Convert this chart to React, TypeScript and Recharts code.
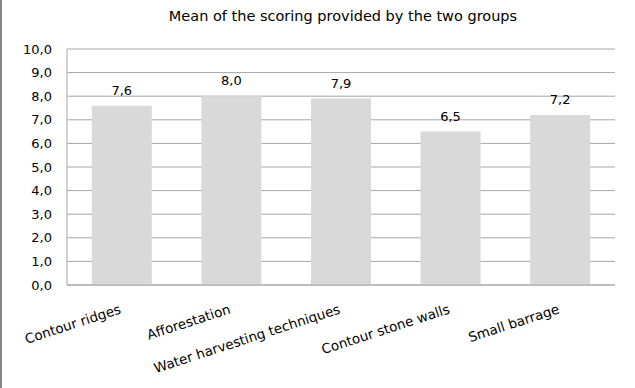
import { Bar, BarChart, CartesianGrid, LabelList, XAxis, YAxis } from "recharts";

const techniques = [
  "Contour ridges",
  "Afforestation",
  "Water harvesting techniques",
  "Contour stone walls",
  "Small barrage",
];
const meanScores = [7.6, 8.0, 7.9, 6.5, 7.2];
const yTicks = [0, 1, 2, 3, 4, 5, 6, 7, 8, 9, 10];

const chartData = techniques.map((name, i) => ({ name, score: meanScores[i] }));

const fmt = (v: number) => Number(v).toFixed(1).replace(".", ",");
const FONT = "'DejaVu Sans', sans-serif";

const SlantTick = (props: any) => {
  const { x, y, payload } = props;
  return (
    <g transform={`translate(${x},${y + 20})`}>
      <text
        textAnchor="end"
        transform="rotate(-18)"
        fontSize={13.5}
        fontFamily={FONT}
        fill="#000"
      >
        {payload.value}
      </text>
    </g>
  );
};

export default function App() {
  return (
    <div
      style={{
        position: "absolute",
        left: 0,
        top: 0,
        width: 635,
        height: 388,
        background: "#fff",
        borderLeft: "2px solid #888",
        boxSizing: "border-box",
      }}
    >
      <div
        style={{
          position: "absolute",
          left: 67,
          width: 548,
          top: 8,
          textAlign: "center",
          fontFamily: FONT,
          fontSize: 14.5,
          color: "#000",
        }}
      >
        Mean of the scoring provided by the two groups
      </div>
      <div style={{ position: "absolute", left: -2, top: 0 }}>
        <BarChart
          width={635}
          height={388}
          data={chartData}
          margin={{ top: 49, right: 20, left: 7, bottom: 13 }}
          barCategoryGap="22.6%"
        >
          <CartesianGrid vertical={false} stroke="#a6a6a6" />
          <XAxis
            dataKey="name"
            interval={0}
            height={90}
            tickLine={false}
            stroke="#a6a6a6"
            tick={<SlantTick />}
          />
          <YAxis
            width={60}
            domain={[0, 10]}
            ticks={yTicks}
            tickFormatter={fmt}
            tickLine={false}
            tickMargin={9}
            stroke="#a6a6a6"
            tick={{ fill: "#000", fontSize: 13, fontFamily: FONT }}
          />
          <Bar dataKey="score" fill="#d9d9d9" isAnimationActive={false}>
            <LabelList
              dataKey="score"
              position="top"
              offset={11}
              formatter={(v: any) => fmt(v)}
              style={{ fill: "#000", fontSize: 13, fontFamily: FONT }}
            />
          </Bar>
        </BarChart>
      </div>
    </div>
  );
}
